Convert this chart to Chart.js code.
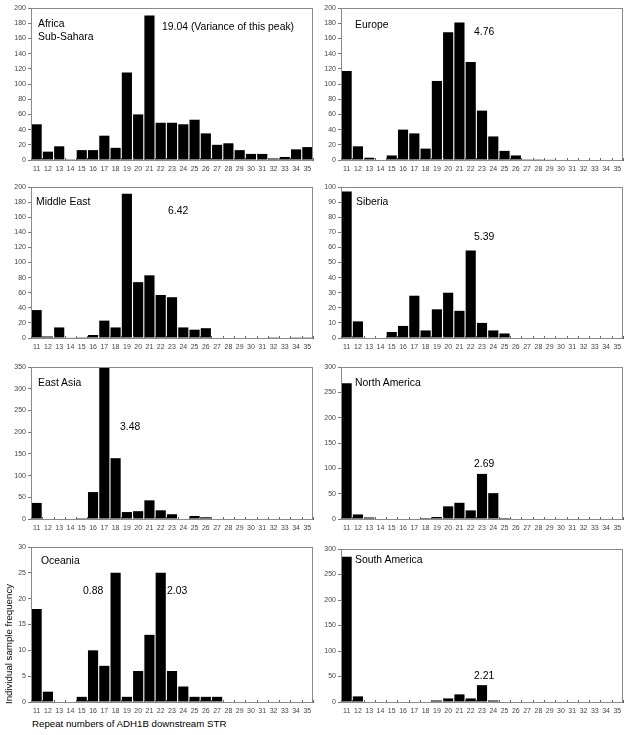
<!DOCTYPE html>
<html><head><meta charset="utf-8">
<script src="https://cdn.jsdelivr.net/npm/chart.js@4.4.0/dist/chart.umd.min.js"></script>
<style>
html,body{margin:0;padding:0;background:#fff;}
body{width:629px;height:735px;position:relative;overflow:hidden;font-family:"Liberation Sans",Arial,sans-serif;}
.c{position:absolute;}
.t{position:absolute;font-size:10.4px;line-height:13px;color:#000;white-space:nowrap;}
.ax{position:absolute;font-size:9.7px;line-height:12px;color:#000;white-space:nowrap;}
</style></head><body>
<script>
// ---- data ----
const repeatLabels = ['11','12','13','14','15','16','17','18','19','20','21','22','23','24','25','26','27','28','29','30','31','32','33','34','35'];
const africaSubSahara = [47,11,18,1,13,13,32,16,115,60,190,49,49,47,53,35,20,22,13,8,8,2,4,14,17];
const europe          = [117,18,3,0,6,40,35,15,104,168,181,129,65,31,12,6,1,1,0.5,0,0,0,0,0,0];
const middleEast      = [37,2,14,0.5,1,4,23,14,191,74,83,57,54,14,11,13,0,0,0,0,0,1,0,1,1];
const siberia         = [97,11,0,0,4,8,28,5,19,30,18,58,10,5,3,0,0,0,0,0,0,0,0,0,0];
const eastAsia        = [37,0,0,0,2,62,348,140,16,18,43,20,11,0,7,4,0,0,0,0,0,0,0,0,0];
const northAmerica    = [268,9,3,0,0,0,1,2,4,25,32,17,89,51,2,0,0,0,0,0,0,0,0,0,0];
const oceania         = [18,2,0,0,1,10,7,25,1,6,13,25,6,3,1,1,1,0,0,0,0,0,0,0,0];
const southAmerica    = [285,11,0,0,0,0,0,0,3,7,15,7,33,3,0,1,0,0,0,0,0,0,0,0,0];
const yAxisMax  = [200,200,200,100,350,300,30,300];
const yAxisStep = [20,20,20,10,50,50,5,50];
const regionNames = ['Africa','Europe','Middle East','Siberia','East Asia','North America','Oceania','South America'];
const peakVariances = ['19.04 (Variance of this peak)','4.76','6.42','5.39','3.48','2.69','2.03','2.21'];

// ---- layout ----
const FONT = '"Liberation Sans", Arial, sans-serif';
const series = [africaSubSahara, europe, middleEast, siberia, eastAsia, northAmerica, oceania, southAmerica];
const rects = [
  {L:31,R:313,T:8,B:160},{L:341,R:623,T:8,B:160},
  {L:31,R:313,T:187,B:338},{L:341,R:623,T:187,B:338},
  {L:31,R:313,T:367,B:519},{L:341,R:623,T:367,B:519},
  {L:31,R:313,T:547,B:702},{L:341,R:623,T:549,B:702}
];
const framePlugin = {
  id:'frame',
  afterDraw(chart){
    const a = chart.chartArea, ctx = chart.ctx, xs = chart.scales.x;
    ctx.save();
    ctx.strokeStyle = '#8a8a8a'; ctx.lineWidth = 1;
    ctx.strokeRect(Math.round(a.left)+0.5, Math.round(a.top)+0.5, Math.round(a.right-a.left)-1, Math.round(a.bottom-a.top));
    // inward category-boundary tick marks on the x axis
    const step = xs.getPixelForValue(1) - xs.getPixelForValue(0);
    ctx.strokeStyle = '#666';
    ctx.beginPath();
    for(let i=0;i<=repeatLabels.length;i++){
      const x = Math.round(xs.getPixelForValue(i) - step/2) + 0.5;
      ctx.moveTo(x, a.bottom); ctx.lineTo(x, a.bottom - 2);
    }
    ctx.stroke();
    ctx.restore();
  }
};
const pad = {l:31, t:8, r:5, b:16};
rects.forEach((p,i)=>{
  const w = p.R - p.L + pad.l + pad.r, h = p.B - p.T + pad.t + pad.b;
  const wrap = document.createElement('div');
  wrap.className = 'c';
  wrap.style.left = (p.L - pad.l) + 'px'; wrap.style.top = (p.T - pad.t) + 'px';
  wrap.style.width = w + 'px'; wrap.style.height = h + 'px';
  const cv = document.createElement('canvas');
  cv.width = w; cv.height = h; cv.style.width = w+'px'; cv.style.height = h+'px';
  wrap.appendChild(cv); document.body.appendChild(wrap);
  new Chart(cv, {
    type:'bar',
    data:{labels:repeatLabels, datasets:[{data:series[i], backgroundColor:'#000', borderWidth:0, barPercentage:1, categoryPercentage:0.9}]},
    options:{
      responsive:false, animation:false, devicePixelRatio:1,
      layout:{padding:{left:0, top:pad.t, right:pad.r, bottom:0}},
      plugins:{legend:{display:false}, tooltip:{enabled:false}},
      scales:{
        x:{grid:{display:true, drawOnChartArea:false, drawTicks:false, offset:true, color:'#777'},
           border:{color:'#555'},
           ticks:{font:{size:7, family:FONT}, color:'#444', maxRotation:0, minRotation:0, autoSkip:false, padding:5},
           afterFit(s){ s.height = pad.b; }},
        y:{min:0, max:yAxisMax[i],
           ticks:{stepSize:yAxisStep[i], font:{size:7, family:FONT}, color:'#444', padding:2},
           grid:{drawOnChartArea:false, tickLength:3, color:'#777'},
           border:{color:'#777'},
           afterFit(s){ s.width = pad.l; }}
      }
    },
    plugins:[framePlugin]
  });
});

// ---- annotations ----
function addText(txt, x, cy, cls){
  const d = document.createElement('div');
  d.className = cls || 't'; d.textContent = txt;
  d.style.left = x + 'px'; d.style.top = (cy - 6.5) + 'px';
  document.body.appendChild(d);
}
const namePos = [[38,23],[355,24],[36,201],[356,201],[38,382],[355,382],[41,560],[355,559]];
const varPos  = [[162,26],[474,31],[168,210],[474,236],[120,426],[474,463],[167,590],[474,675]];
regionNames.forEach((n,i)=>addText(n, namePos[i][0], namePos[i][1]));
addText('Sub-Sahara', 38, 36.5);
peakVariances.forEach((v,i)=>addText(v, varPos[i][0], varPos[i][1]));
addText('0.88', 83, 590);
addText('Repeat numbers of ADH1B downstream STR', 32, 724, 'ax');
const yt = document.createElement('div');
yt.className = 'ax'; yt.textContent = 'Individual sample frequency';
yt.style.left = '9px'; yt.style.top = '644px';
yt.style.transform = 'translate(-50%,-50%) rotate(-90deg)';
document.body.appendChild(yt);
</script>
</body></html>
